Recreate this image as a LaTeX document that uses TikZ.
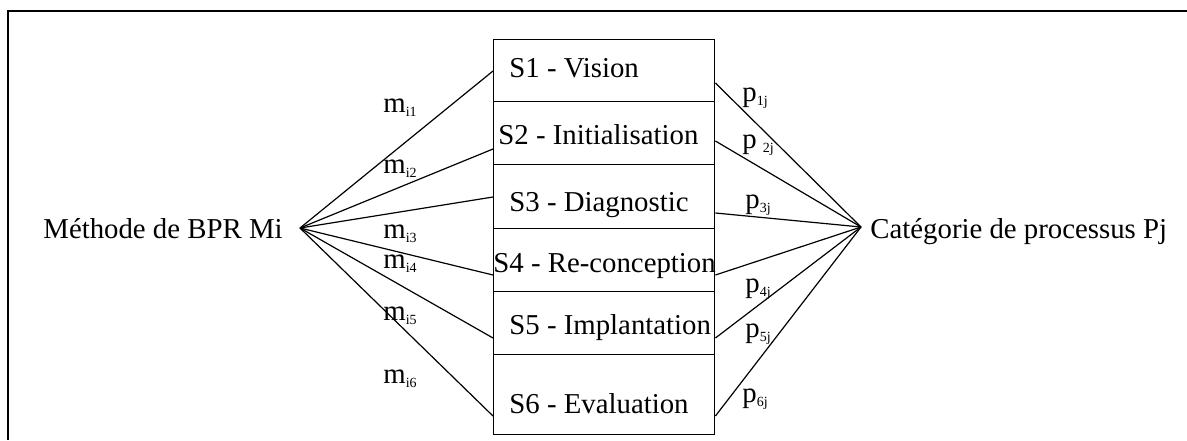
\documentclass[tikz,border=0pt]{standalone}
\usepackage{fontspec}
\setmainfont{Liberation Serif}
\newcommand\subf{\fontsize{7}{8}\selectfont}
\newcommand\lbl[2]{#1\raisebox{-2pt}{\subf #2}}
\begin{document}
\begin{tikzpicture}[x=0.5pt,y=-0.5pt,
  font=\fontsize{14.4}{17}\selectfont,
  txt/.style={inner sep=0pt, anchor=base west},
  stage/.style={draw, line width=0.7pt, minimum width=110.5pt, anchor=north west, inner sep=0pt},
  link/.style={line width=0.6pt},
  frame/.style={line width=0.75pt}]
\useasboundingbox (0,0) rectangle (1187,440);
\coordinate (f1) at (1187,11);
\coordinate (f2) at (8,11);
\coordinate (f3) at (8,440);
\draw[frame] (f1) -- (f2) -- (f3);

% stage boxes
\node[stage, minimum height=31pt]   (b1) at (493,39)  {};
\node[stage, minimum height=31.5pt] (b2) at (493,101) {};
\node[stage, minimum height=32pt]   (b3) at (493,164) {};
\node[stage, minimum height=31.5pt] (b4) at (493,228) {};
\node[stage, minimum height=31.5pt] (b5) at (493,291) {};
\node[stage, minimum height=40pt]   (b6) at (493,354) {};

\node[txt] (t1) at (509,77)  {S1 - Vision};
\node[txt] (t2) at (498,144) {S2 - Initialisation};
\node[txt] (t3) at (509,211) {S3 - Diagnostic};
\node[txt] (t4) at (493,272) {S4 - Re-conception};
\node[txt] (t5) at (509,334) {S5 - Implantation};
\node[txt] (t6) at (509,413) {S6 - Evaluation};

% hubs and end texts
\coordinate (L) at (300,228);
\coordinate (R) at (861,227);
\node[txt] (meth) at (43,238)  {Méthode de BPR Mi};
\node[txt] (cat)  at (870,238) {Catégorie de processus Pj};

% left connectors
\draw[link] (L) -- (b1.west |- 0,71);
\draw[link] (L) -- (b2.west |- 0,149);
\draw[link] (L) -- (b3.west |- 0,197);
\draw[link] (L) -- (b4.west |- 0,275);
\draw[link] (L) -- (b5.west |- 0,338);
\draw[link] (L) -- (b6.west |- 0,416);

% right connectors
\draw[link] (b1.east |- 0,83)  -- (R);
\draw[link] (b2.east |- 0,141) -- (R);
\draw[link] (b3.east |- 0,213) -- (R);
\draw[link] (b4.east |- 0,275) -- (R);
\draw[link] (b5.east |- 0,338) -- (R);
\draw[link] (b6.east |- 0,416) -- (R);

% weights
\node[txt] (m1) at (383,112) {\lbl{m}{i1}};
\node[txt] (m2) at (383,173) {\lbl{m}{i2}};
\node[txt] (m3) at (383,238) {\lbl{m}{i3}};
\node[txt] (m4) at (383,268) {\lbl{m}{i4}};
\node[txt] (m5) at (383,320) {\lbl{m}{i5}};
\node[txt] (m6) at (383,383) {\lbl{m}{i6}};

\node[txt] (p1) at (742,101) {\lbl{p}{1j}};
\node[txt] (p2) at (742,148) {p\hspace{3pt}\raisebox{-2pt}{\subf 2j}};
\node[txt] (p3) at (745,208) {\lbl{p}{3j}};
\node[txt] (p4) at (745,292) {\lbl{p}{4j}};
\node[txt] (p5) at (745,337) {\lbl{p}{5j}};
\node[txt] (p6) at (742,402) {\lbl{p}{6j}};
\end{tikzpicture}
\end{document}
